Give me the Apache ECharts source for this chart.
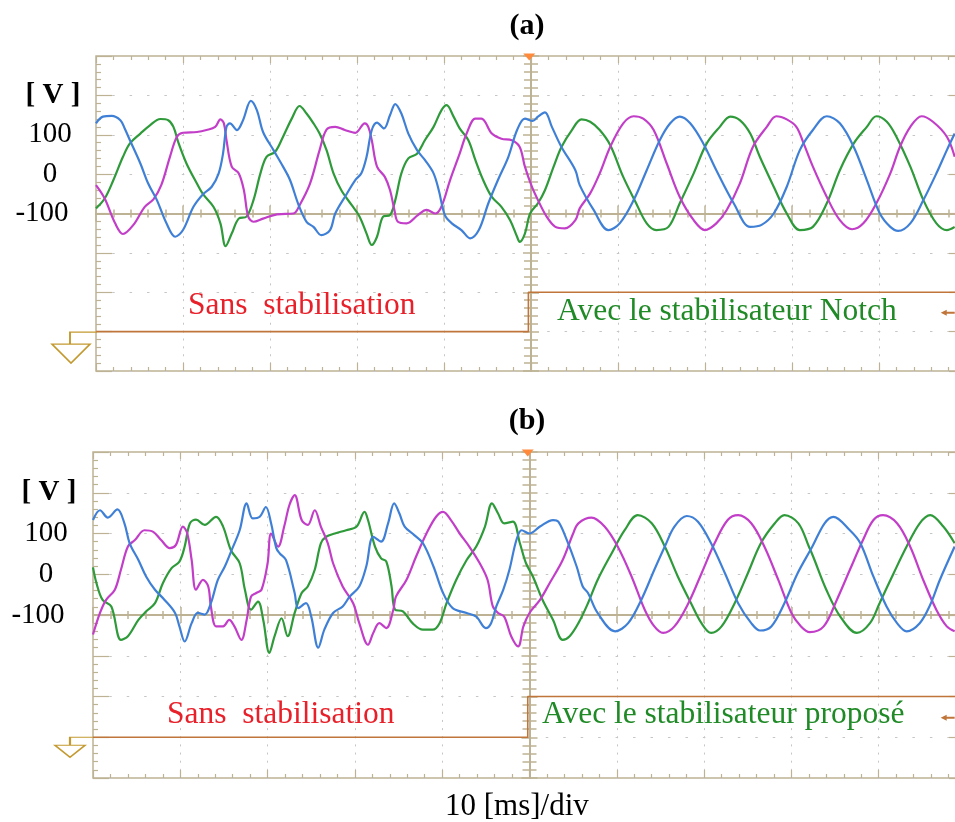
<!DOCTYPE html>
<html><head><meta charset="utf-8">
<script src="https://cdn.jsdelivr.net/npm/echarts@6/dist/echarts.min.js"></script>
<style>html,body{margin:0;padding:0;background:#fff}#c{width:955px;height:822px}</style>
</head><body><div id="c"></div>
<script>
// ---- data (time in ms, voltage in V) ----
const aBlue = [[0,129],[0.8,146],[1.8,148],[2.8,137],[3.3,116],[3.9,86],[5.1,27],[6.0,-24],[7.0,-66],[8.1,-125],[9.1,-159],[10.0,-142],[11.2,-83],[12.3,-51],[13.3,-32],[14.1,2],[14.6,52],[15.0,120],[15.4,129],[16.2,112],[16.9,137],[17.8,186],[18.5,162],[19.2,107],[20.4,61],[21.5,19],[22.3,-15],[23.3,-79],[24.2,-121],[25.0,-134],[25.9,-155],[26.9,-142],[27.5,-100],[28.8,-51],[29.8,-15],[30.5,2],[31.1,44],[31.7,112],[32.3,131],[33.1,116],[33.8,150],[34.4,178],[35.1,154],[35.9,103],[36.9,61],[37.8,36],[38.8,2],[39.4,-41],[40.1,-104],[40.9,-125],[42.0,-142],[43.0,-163],[44.0,-142],[45.1,-74],[46.2,-15],[47.4,44],[48.4,112],[49.3,141],[50.2,135],[50.8,146],[51.6,157],[52.4,120],[53.5,69],[55.1,10],[55.6,-28],[57.2,-91],[58.9,-142],[60.2,-125],[61.8,-66],[63.3,10],[64.8,86],[66.0,129],[67.1,146],[68.3,129],[69.8,78],[71.3,10],[73.3,-74],[75.2,-134],[76.5,-129],[77.9,-100],[79.4,-32],[80.9,61],[82.4,112],[84.0,147],[85.5,129],[87.1,69],[88.6,-15],[90.1,-100],[91.3,-134],[92.2,-144],[93.6,-125],[95.1,-66],[96.6,2],[97.8,61],[98.7,103]];
const aGreen = [[0,-87],[1.0,-62],[2.0,-15],[3.1,44],[3.9,78],[5.1,103],[6.2,124],[7.4,140],[8.3,137],[8.9,120],[9.5,78],[10.4,27],[11.6,-24],[12.3,-51],[13.5,-83],[14.3,-125],[14.9,-183],[15.6,-151],[16.4,-113],[17.3,-108],[18.1,-66],[18.9,2],[19.6,44],[20.6,57],[21.5,95],[22.5,141],[23.4,173],[24.2,154],[25.0,129],[25.7,103],[26.5,61],[27.3,2],[28.2,-41],[29.4,-79],[30.3,-108],[31.1,-151],[31.7,-180],[32.3,-159],[33.0,-108],[33.8,-104],[34.4,-66],[35.1,2],[35.9,40],[36.9,52],[37.8,86],[38.8,120],[39.7,162],[40.3,175],[41.1,146],[41.8,116],[42.8,86],[43.6,36],[44.5,-15],[45.5,-58],[46.6,-83],[47.6,-117],[48.4,-159],[48.7,-172],[49.3,-151],[49.9,-100],[50.8,-74],[51.6,-41],[52.6,19],[53.5,69],[54.7,112],[55.8,139],[56.8,133],[57.9,112],[59.1,74],[60.6,-7],[62.0,-70],[63.3,-125],[64.4,-142],[65.8,-134],[67.1,-74],[68.7,2],[70.2,78],[71.7,120],[72.9,146],[74.0,137],[75.2,103],[76.3,44],[77.9,-32],[79.4,-100],[80.9,-142],[82.4,-134],[84.0,-74],[85.5,10],[87.1,78],[88.6,120],[89.7,147],[90.9,133],[92.0,95],[93.6,19],[95.1,-66],[96.6,-125],[97.8,-142],[98.7,-134]];
const aMagenta = [[0,-28],[1.0,-62],[2.2,-125],[3.1,-152],[4.3,-129],[5.6,-83],[6.6,-64],[7.5,-28],[8.5,44],[9.3,95],[10.0,105],[11.6,107],[12.7,112],[13.7,120],[14.3,139],[14.7,129],[15.0,86],[15.6,19],[16.4,2],[17.0,-41],[17.5,-108],[18.1,-121],[19.2,-113],[20.8,-102],[22.7,-100],[23.4,-79],[24.6,-24],[25.7,61],[26.5,113],[27.5,120],[28.6,112],[29.8,105],[30.9,129],[31.3,120],[31.7,86],[32.3,19],[33.2,-7],[33.8,-41],[34.3,-91],[34.7,-121],[35.7,-125],[37.0,-104],[38.0,-91],[39.0,-100],[39.7,-83],[40.7,-15],[41.8,52],[42.6,103],[43.6,141],[44.3,141],[45.5,103],[46.6,90],[47.8,86],[48.7,69],[49.3,19],[50.1,-32],[50.8,-66],[51.8,-108],[52.8,-134],[53.9,-138],[55.1,-117],[55.6,-87],[56.8,-49],[57.9,2],[59.1,69],[60.6,129],[61.8,147],[62.9,141],[64.1,112],[65.6,27],[67.1,-58],[68.7,-117],[70.0,-142],[71.3,-125],[72.5,-91],[74.0,-24],[75.5,69],[77.1,120],[78.2,147],[79.4,139],[80.5,120],[81.3,80],[82.4,19],[84.0,-58],[85.5,-117],[86.9,-140],[88.2,-125],[89.7,-74],[91.3,2],[92.4,69],[93.6,120],[94.9,147],[96.2,133],[97.8,95],[98.7,44]];
const aStep = [[0,-400],[49.7,-400],[49.7,-300],[100,-300]];

const bBlue = [[0,133],[0.8,157],[1.7,139],[2.8,159],[3.6,125],[4.2,76],[5.2,35],[6.1,-6],[7.1,-38],[8.2,-63],[9.4,-95],[9.9,-128],[10.5,-165],[11.3,-120],[12.0,-95],[12.8,-99],[13.5,-71],[14.3,-14],[15.1,19],[15.8,55],[16.8,108],[17.6,174],[18.3,137],[19.1,141],[19.8,165],[20.4,125],[21.0,64],[21.4,51],[22.1,35],[23.1,-46],[23.5,-83],[24.4,-71],[25.0,-104],[25.8,-180],[26.5,-136],[27.5,-95],[28.6,-79],[29.4,-55],[30.5,-30],[31.3,19],[32.1,92],[33.0,80],[33.8,125],[34.5,174],[35.1,149],[35.7,117],[36.8,96],[37.8,76],[39.0,19],[40.1,-46],[41.2,-83],[42.8,-95],[43.9,-104],[45.0,-132],[45.6,-120],[46.2,-79],[47.0,-38],[47.7,11],[48.5,84],[49.1,108],[50.0,100],[51.2,117],[52.7,133],[53.3,129],[54.2,88],[55.4,19],[56.1,-30],[56.7,-46],[57.8,-95],[59.8,-140],[61.3,-120],[62.8,-63],[64.3,11],[65.5,68],[66.6,117],[68.0,143],[69.3,129],[70.8,76],[72.4,2],[73.9,-71],[75.4,-120],[76.4,-138],[77.7,-128],[79.2,-71],[80.7,2],[82.4,68],[83.8,125],[84.8,141],[86.7,108],[87.9,76],[89.4,-6],[90.9,-79],[92.1,-120],[93.2,-140],[94.7,-120],[95.9,-75],[97.0,-14],[98.7,68]];
const bGreen = [[0,17],[0.4,-22],[1.1,-63],[2.1,-79],[3.2,-161],[4.0,-152],[5.2,-112],[6.1,-91],[7.1,-71],[8.0,-22],[9.0,15],[9.9,31],[10.5,68],[11.1,125],[11.8,134],[12.8,121],[14.1,141],[14.9,117],[15.8,59],[16.8,27],[17.4,-38],[18.1,-87],[18.9,-67],[19.5,-112],[20.2,-193],[20.8,-152],[21.6,-108],[22.3,-152],[23.1,-95],[23.9,-46],[24.6,-30],[25.4,11],[26.1,76],[26.7,92],[27.7,100],[29.0,108],[30.2,117],[31.1,153],[31.5,133],[32.3,68],[33.0,39],[33.6,31],[34.2,-30],[34.6,-87],[35.5,-91],[36.6,-120],[37.8,-136],[38.9,-136],[39.7,-120],[40.5,-71],[41.6,-14],[42.8,35],[43.9,68],[44.9,117],[45.7,174],[46.4,149],[47.1,125],[48.1,129],[48.9,76],[49.6,27],[50.4,-6],[51.5,-63],[52.7,-112],[53.8,-161],[54.6,-152],[55.6,-120],[56.7,-71],[57.8,-14],[59.4,51],[60.9,108],[62.4,145],[64.0,125],[65.5,68],[67.0,-6],[68.5,-71],[69.7,-120],[70.8,-144],[72.0,-128],[73.5,-71],[75.0,2],[76.5,76],[78.1,125],[79.2,145],[80.8,125],[82.0,68],[82.5,43],[84.0,-38],[85.6,-104],[87.5,-144],[89.0,-120],[90.1,-71],[91.7,2],[93.2,68],[94.7,125],[95.9,145],[97.4,117],[98.7,76]];
const bMagenta = [[0,-148],[0.8,-95],[1.5,-63],[2.5,-38],[3.2,11],[4.0,68],[4.8,84],[5.9,108],[6.9,104],[7.8,84],[8.8,64],[9.5,72],[10.3,117],[10.8,100],[11.3,35],[11.8,-38],[12.6,-14],[13.2,-30],[13.5,-79],[14.1,-128],[14.9,-128],[15.6,-112],[16.2,-128],[17.0,-161],[17.6,-112],[18.1,-55],[18.7,-46],[19.3,-38],[20.0,27],[20.4,100],[21.2,68],[21.9,117],[22.5,170],[23.1,194],[23.9,133],[24.6,121],[25.4,157],[26.1,117],[26.9,76],[27.5,27],[28.6,-30],[29.8,-71],[30.5,-120],[31.5,-173],[32.1,-144],[32.8,-120],[33.6,-132],[34.4,-87],[34.7,-55],[35.9,-14],[37.0,43],[38.2,100],[39.3,141],[40.1,153],[41.0,133],[42.0,100],[43.1,68],[44.3,27],[45.2,-14],[45.8,-79],[46.4,-95],[47.1,-104],[47.9,-152],[48.7,-177],[49.3,-128],[50.0,-95],[51.2,-63],[52.3,-22],[53.8,35],[55.0,100],[55.6,125],[57.1,139],[58.6,117],[60.1,68],[61.7,-6],[63.2,-87],[64.3,-128],[65.3,-144],[66.6,-128],[68.2,-71],[69.7,2],[71.2,76],[72.7,133],[73.9,145],[75.4,125],[76.9,68],[78.5,-14],[80.0,-95],[81.1,-128],[82.1,-142],[83.7,-128],[85.2,-63],[86.7,11],[88.2,84],[89.4,133],[90.5,145],[92.1,125],[93.6,68],[95.1,-14],[96.6,-87],[97.8,-128],[98.7,-140]];
const bStep = [[0,-400],[49.8,-400],[49.8,-300],[100,-300]];

const yTickValues = [200, 100, 0, -100];
const yTickLabels = ['[ V ]', '100', '0', '-100'];
const chanMarker = [97.9, -352];
const triggerMarker = [49.8, 300];

// ---- styling ----
const TAN = '#bdb394';
const DOT = '#c6c6c6';
const SERIF = "'Liberation Serif','Times New Roman',serif";
const C_BLUE = '#3f80d6', C_MAG = '#c23ec8', C_GREEN = '#2e9a3a', C_STEP = '#c0763a', C_GROUND = '#c49a30';

const panels = [
  { left: 96, top: 56, width: 870, height: 315, blue: aBlue, mag: aMagenta, green: aGreen, step: aStep,
    ground: { path: 'path://M45,0L18,0L18,12M0,12L38,12L19,31Z', size: [45, 31], offset: [-21.5, 16] }, labMargin: 46 },
  { left: 93, top: 452, width: 873, height: 326, blue: bBlue, mag: bMagenta, green: bGreen, step: bStep,
    ground: { path: 'path://M38,0L15,0L15,8M0,8L30,8L15,20Z', size: [38, 20], offset: [-19, 10] }, labMargin: 47 }
];

const grid = [], xAxis = [], yAxis = [], series = [];
panels.forEach((p, i) => {
  grid.push({ left: p.left, top: p.top, width: p.width, height: p.height, show: true, borderColor: TAN, borderWidth: 1.5,
    containLabel: false, outerBoundsMode: 'none' });
  const dv = p.height / 40, dh = p.width / 50;
  const xBase = { gridIndex: i, type: 'value', min: 0, max: 100, interval: 10, axisLabel: { show: false }, splitLine: { show: false } };
  xAxis.push(Object.assign({}, xBase, { position: 'bottom', axisLine: { show: false, onZero: false },
    axisTick: { inside: true, length: 8, lineStyle: { color: TAN, width: 1.2 } },
    minorTick: { show: true, splitNumber: 5, length: 4, lineStyle: { color: TAN, width: 1.2 } },
    splitLine: { show: true, lineStyle: { color: DOT, width: 1, type: [2, dv - 2], dashOffset: 1 } } }));
  xAxis.push(Object.assign({}, xBase, { position: 'top', axisLine: { show: false, onZero: false },
    axisTick: { inside: true, length: 7, lineStyle: { color: TAN, width: 1.2 } },
    minorTick: { show: true, splitNumber: 5, length: 4, lineStyle: { color: TAN, width: 1.2 } } }));
  xAxis.push(Object.assign({}, xBase, { position: 'bottom', offset: -p.height / 2,
    axisLine: { show: true, onZero: false, lineStyle: { color: TAN, width: 2 } },
    axisTick: { inside: true, length: 8, lineStyle: { color: TAN, width: 1.5 } },
    minorTick: { show: true, splitNumber: 5, length: 4, lineStyle: { color: TAN, width: 1.5 } } }));
  xAxis.push(Object.assign({}, xBase, { position: 'bottom', offset: -p.height / 2,
    axisLine: { show: false, onZero: false },
    axisTick: { inside: false, length: 8, lineStyle: { color: TAN, width: 1.5 } },
    minorTick: { show: true, splitNumber: 5, length: 4, lineStyle: { color: TAN, width: 1.5 } } }));

  const yBase = { gridIndex: i, type: 'value', min: -500, max: 300, interval: 100, splitLine: { show: false }, axisLabel: { show: false } };
  yAxis.push(Object.assign({}, yBase, { position: 'left', axisLine: { show: false, onZero: false },
    axisTick: { inside: true, length: 16, lineStyle: { color: TAN, width: 1.2 } },
    minorTick: { show: true, splitNumber: 5, length: 5, lineStyle: { color: TAN, width: 1.2 } },
    splitLine: { show: true, lineStyle: { color: DOT, width: 1, type: [2.5, dh - 2.5], dashOffset: 1.2 } },
    axisLabel: { show: true, margin: p.labMargin, align: 'center', verticalAlign: 'middle',
      formatter: v => { const k = yTickValues.indexOf(v); if (k < 0) return '';
        if (k === 0) return '{b|' + yTickLabels[k] + '}';
        return v < 0 ? '{m|' + yTickLabels[k] + '}' : '{n|' + yTickLabels[k] + '}'; },
      rich: {
        b: { fontFamily: SERIF, fontWeight: 'bold', fontSize: 29, color: '#000', padding: [0, 0, 0, 6] },
        n: { fontFamily: SERIF, fontSize: 29, color: '#000' },
        m: { fontFamily: SERIF, fontSize: 29, color: '#000', padding: [0, 16, 0, 0] }
      } } }));
  yAxis.push(Object.assign({}, yBase, { position: 'left', offset: -p.width / 2,
    axisLine: { show: true, onZero: false, lineStyle: { color: TAN, width: 2 } },
    axisTick: { inside: true, length: 8, lineStyle: { color: TAN, width: 1.5 } },
    minorTick: { show: true, splitNumber: 5, length: 7, lineStyle: { color: TAN, width: 1.5 } } }));
  yAxis.push(Object.assign({}, yBase, { position: 'left', offset: -p.width / 2,
    axisLine: { show: false, onZero: false },
    axisTick: { inside: false, length: 8, lineStyle: { color: TAN, width: 1.5 } },
    minorTick: { show: true, splitNumber: 5, length: 7, lineStyle: { color: TAN, width: 1.5 } } }));
  yAxis.push(Object.assign({}, yBase, { position: 'right', axisLine: { show: false, onZero: false },
    axisTick: { inside: true, length: 17, lineStyle: { color: TAN, width: 1.2 } },
    minorTick: { show: true, splitNumber: 5, length: 5, lineStyle: { color: TAN, width: 1.2 } } }));

  const xi = i * 4, yi = i * 4;
  series.push({ type: 'line', xAxisIndex: xi, yAxisIndex: yi, data: p.step, showSymbol: false, z: 3,
    lineStyle: { color: C_STEP, width: 1.6 }, itemStyle: { color: C_STEP },
    markPoint: { silent: true, animation: false, label: { show: false }, data: [
      { coord: [0, -400], symbol: p.ground.path, symbolSize: p.ground.size, symbolOffset: p.ground.offset,
        itemStyle: { color: 'rgba(255,255,255,0)', borderColor: C_GROUND, borderWidth: 1.6 } },
      { coord: triggerMarker, symbol: 'triangle', symbolRotate: 180, symbolSize: [12, 7], symbolOffset: [0, 1],
        itemStyle: { color: '#ff8a3c' } },
      { coord: chanMarker, symbol: 'path://M0,3L6,0L6,2L14,2L14,4L6,4L6,6Z', symbolSize: [14, 6],
        itemStyle: { color: C_STEP } }
    ] } });
  [[p.green, C_GREEN], [p.mag, C_MAG], [p.blue, C_BLUE]].forEach(([d, c]) => {
    series.push({ type: 'line', xAxisIndex: xi, yAxisIndex: yi, data: d, showSymbol: false, smooth: 0.35, z: 4,
      lineStyle: { color: c, width: 2.2 }, itemStyle: { color: c } });
  });
});

const tStyle = (size, color, bold) => ({ fontFamily: SERIF, fontSize: size, color: color, fontWeight: bold ? 'bold' : 'normal' });
const title = [
  { text: '(a)', left: 527, top: 11, padding: 0, textAlign: 'center', textStyle: tStyle(30, '#000', true) },
  { text: '(b)', left: 527, top: 406, padding: 0, textAlign: 'center', textStyle: tStyle(30, '#000', true) },
  { text: 'Sans  stabilisation', left: 188, top: 290, padding: 0, textStyle: tStyle(31.5, '#e8202a') },
  { text: 'Avec le stabilisateur Notch', left: 557, top: 296, padding: 0, textStyle: tStyle(31.5, '#1f8a26') },
  { text: 'Sans  stabilisation', left: 167, top: 699, padding: 0, textStyle: tStyle(31.5, '#e8202a') },
  { text: 'Avec le stabilisateur proposé', left: 542, top: 699, padding: 0, textStyle: tStyle(31.5, '#1f8a26') },
  { text: '10 [ms]/div', left: 445, top: 791, padding: 0, textStyle: tStyle(31, '#000') }
];

const chart = echarts.init(document.getElementById('c'), null, { renderer: 'canvas' });
chart.setOption({ animation: false, backgroundColor: '#fff', title, grid, xAxis, yAxis, series });
</script></body></html>
